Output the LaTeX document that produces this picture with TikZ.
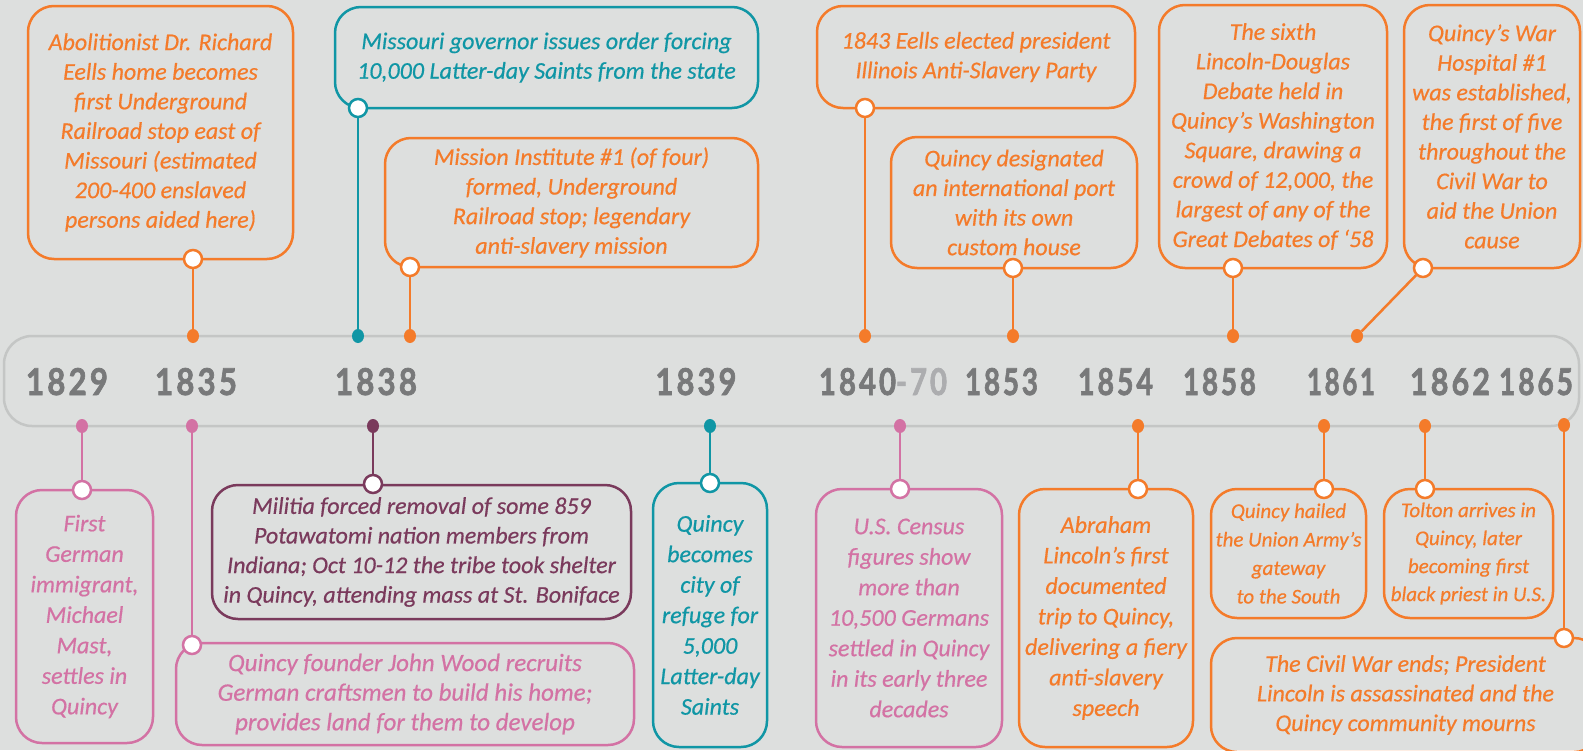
\documentclass[tikz,border=0pt]{standalone}
\usepackage{fontspec}
\setmainfont{Carlito}[ItalicFeatures={FakeBold=0.5}]
\newfontfamily\yearfont{Lato}[LetterSpace=10, BoldFeatures={FakeBold=2}]
\usetikzlibrary{shapes.geometric}
\definecolor{bg}{RGB}{221,223,222}
\definecolor{bandgray}{RGB}{196,198,197}
\definecolor{orng}{RGB}{244,123,42}
\definecolor{teal}{RGB}{16,150,165}
\definecolor{pnk}{RGB}{211,114,164}
\definecolor{plum}{RGB}{122,58,92}
\definecolor{yeargray}{RGB}{120,121,122}
\definecolor{yearlight}{RGB}{172,173,175}
\newcommand{\yrtxt}[2]{\resizebox{#1pt}{27pt}{\yearfont\bfseries #2}}
\newcommand{\tf}[2]{\fontsize{#1}{#2}\selectfont\itshape}
\tikzset{
  evbox/.style={draw, line width=2.5pt, rounded corners=26pt, inner sep=0pt, align=center},
  ring/.style={circle, draw=#1, fill=white, line width=2.5pt, minimum size=18pt, inner sep=0pt},
  tdot/.style={ellipse, fill=#1, minimum width=12pt, minimum height=14pt, inner sep=0pt},
  conn/.style={line width=2.5pt},
  yr/.style={anchor=base, inner sep=0pt, text=yeargray},
}
\begin{document}
\begin{tikzpicture}[x=1pt,y=-1pt]
\fill[bg] (0,0) rectangle (1583,750);
\useasboundingbox (0,0) rectangle (1583,750);
% timeline band
\draw[bandgray, line width=2.5pt, rounded corners=28pt] (4,336) rectangle (1579,426);
% years
\node[yr] (y1829) at (67,395) {\yrtxt{82}{1829}};
\node[yr] (y1835) at (196,395) {\yrtxt{82}{1835}};
\node[yr] (y1838) at (376,395) {\yrtxt{82}{1838}};
\node[yr] (y1839) at (696,395) {\yrtxt{81}{1839}};
\node[yr] (y1840) at (883,395) {\yrtxt{128}{1840\textcolor{yearlight}{-70}}};
\node[yr] (y1853) at (1001.5,395) {\yrtxt{73}{1853}};
\node[yr] (y1854) at (1115.5,395) {\yrtxt{75}{1854}};
\node[yr] (y1858) at (1219.5,395) {\yrtxt{73}{1858}};
\node[yr] (y1861) at (1341,395) {\yrtxt{68}{1861}};
\node[yr] (y1862) at (1450,395) {\yrtxt{80}{1862}};
\node[yr] (y1865) at (1536,395) {\yrtxt{74}{1865}};
% ---------- top boxes ----------
\node[evbox, orng, text=orng, font=\tf{24}{29.6}, minimum width=265pt, minimum height=253pt] (b1) at (160.5,132.5)
 {Abolitionist Dr. Richard\\Eells home becomes\\first Underground\\Railroad stop east of\\Missouri (estimated\\200-400 enslaved\\persons aided here)};
\node[evbox, teal, text=teal, font=\tf{24}{29.6}, minimum width=423pt, minimum height=101pt] (b2) at (546.5,57.5)
 {Missouri governor issues order forcing\\10,000 Latter-day Saints from the state};
\node[evbox, orng, text=orng, font=\tf{24}{29.6}, minimum width=373pt, minimum height=129pt] (b3) at (571.5,202.5)
 {Mission Institute \#1 (of four)\\formed, Underground\\Railroad stop; legendary\\anti-slavery mission};
\node[evbox, orng, text=orng, font=\tf{24}{29.6}, minimum width=318pt, minimum height=102pt] (b4) at (976,57)
 {1843 Eells elected president\\Illinois Anti-Slavery Party};
\node[evbox, orng, text=orng, font=\tf{24}{29.6}, minimum width=246pt, minimum height=131pt] (b5) at (1014,202.5)
 {Quincy designated\\an international port\\with its own\\custom house};
\node[evbox, orng, text=orng, font=\tf{24}{29.6}, minimum width=228pt, minimum height=263pt] (b6) at (1273,136.5)
 {The sixth\\Lincoln-Douglas\\Debate held in\\Quincy’s Washington\\Square, drawing a\\crowd of 12,000, the\\largest of any of the\\Great Debates of ‘58};
\node[evbox, orng, text=orng, font=\tf{24}{29.6}, minimum width=176pt, minimum height=263pt] (b7) at (1492,136.5)
 {Quincy’s War\\Hospital \#1\\was established,\\the first of five\\throughout the\\Civil War to\\aid the Union\\cause};
% ---------- bottom boxes ----------
\node[evbox, pnk, text=pnk, font=\tf{24}{30.5}, minimum width=137pt, minimum height=253pt] (b8) at (84.5,616.5)
 {First\\German\\immigrant,\\Michael\\Mast,\\settles in\\Quincy};
\node[evbox, pnk, text=pnk, font=\tf{25}{29.6}, minimum width=458pt, minimum height=102pt] (b9) at (405,694)
 {Quincy founder John Wood recruits\\German craftsmen to build his home;\\provides land for them to develop};
\node[evbox, plum, text=plum, font=\tf{24}{29.6}, minimum width=419pt, minimum height=134pt] (b10) at (421.5,552)
 {Militia forced removal of some 859\\Potawatomi nation members from\\Indiana; Oct 10-12 the tribe took shelter\\in Quincy, attending mass at St. Boniface};
\node[evbox, teal, text=teal, font=\tf{24}{30.5}, minimum width=114pt, minimum height=264pt] (b11) at (710,615)
 {Quincy\\becomes\\city of\\refuge for\\5,000\\Latter-day\\Saints};
\node[evbox, pnk, text=pnk, font=\tf{24}{30.5}, minimum width=186pt, minimum height=258pt] (b12) at (909,618)
 {U.S. Census\\figures show\\more than\\10,500 Germans\\settled in Quincy\\in its early three\\decades};
\node[evbox, orng, text=orng, font=\tf{24}{30.5}, minimum width=174pt, minimum height=258pt] (b13) at (1106,618)
 {Abraham\\Lincoln’s first\\documented\\trip to Quincy,\\delivering a fiery\\anti-slavery\\speech};
\node[evbox, orng, text=orng, font=\tf{21}{28.5}, minimum width=155pt, minimum height=129pt] (b14) at (1288.5,553.5)
 {Quincy hailed\\the Union Army’s\\gateway\\to the South};
\node[evbox, orng, text=orng, font=\tf{21}{28}, minimum width=169pt, minimum height=129pt] (b15) at (1468.5,553.5)
 {Tolton arrives in\\Quincy, later\\becoming first\\black priest in U.S.};
\node[evbox, orng, text=orng, font=\tf{24}{29.6}, minimum width=389pt, minimum height=114pt] (b16) at (1405.5,695)
 {The Civil War ends; President\\Lincoln is assassinated and the\\Quincy community mourns};
% ---------- dots on the band ----------
\node[tdot=orng] (d1) at (193,336) {};
\node[tdot=teal] (d2) at (358,336) {};
\node[tdot=orng] (d3) at (410,336) {};
\node[tdot=orng] (d4) at (865,336) {};
\node[tdot=orng] (d5) at (1013,336) {};
\node[tdot=orng] (d6) at (1233,336) {};
\node[tdot=orng] (d7) at (1357,336) {};
\node[tdot=pnk] (d8) at (82,426) {};
\node[tdot=pnk] (d9) at (192,426) {};
\node[tdot=plum] (d10) at (373,426) {};
\node[tdot=teal] (d11) at (710,426) {};
\node[tdot=pnk] (d12) at (900,426) {};
\node[tdot=orng] (d13) at (1138,426) {};
\node[tdot=orng] (d14) at (1324,426) {};
\node[tdot=orng] (d15) at (1425,426) {};
\node[tdot=orng] (d16) at (1564,425) {};
% ---------- rings on the boxes ----------
\node[ring=orng] (r1) at (193,259) {};
\node[ring=teal] (r2) at (358,108) {};
\node[ring=orng] (r3) at (410,267) {};
\node[ring=orng] (r4) at (865,108) {};
\node[ring=orng] (r5) at (1013,268) {};
\node[ring=orng] (r6) at (1233,268) {};
\node[ring=orng] (r7) at (1423,268) {};
\node[ring=pnk] (r8) at (82,490) {};
\node[ring=pnk] (r9) at (192,645) {};
\node[ring=plum] (r10) at (373,484) {};
\node[ring=teal] (r11) at (710,483) {};
\node[ring=pnk] (r12) at (900,489) {};
\node[ring=orng] (r13) at (1138,489) {};
\node[ring=orng] (r14) at (1324,489) {};
\node[ring=orng] (r15) at (1425,489) {};
\node[ring=orng] (r16) at (1564,638) {};
% ---------- connectors ----------
\draw[conn, orng] (d1) -- (r1);
\draw[conn, teal] (d2) -- (r2);
\draw[conn, orng] (d3) -- (r3);
\draw[conn, orng] (d4) -- (r4);
\draw[conn, orng] (d5) -- (r5);
\draw[conn, orng] (d6) -- (r6);
\draw[conn, orng] (d7) -- (r7);
\draw[conn, pnk] (d8) -- (r8);
\draw[conn, pnk] (d9) -- (r9);
\draw[conn, plum] (d10) -- (r10);
\draw[conn, teal] (d11) -- (r11);
\draw[conn, pnk] (d12) -- (r12);
\draw[conn, orng] (d13) -- (r13);
\draw[conn, orng] (d14) -- (r14);
\draw[conn, orng] (d15) -- (r15);
\draw[conn, orng] (d16) -- (r16);
\end{tikzpicture}
\end{document}
